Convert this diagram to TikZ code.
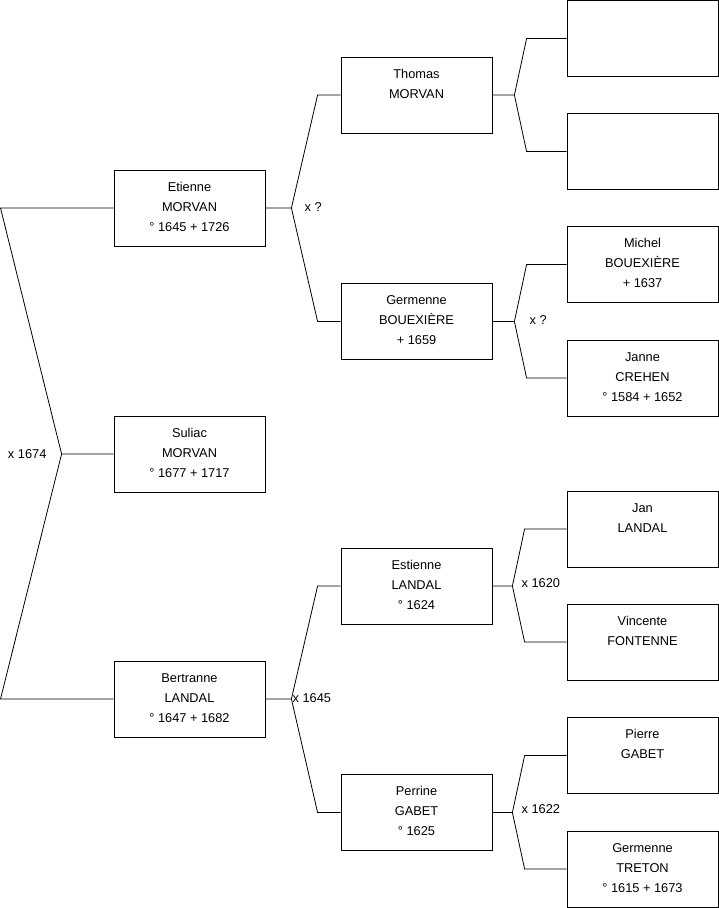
\documentclass[tikz,border=0pt]{standalone}
\usepackage{fontspec}
\setmainfont{Liberation Sans}
\usetikzlibrary{positioning, calc}

\newcommand{\personbox}[1]{\parbox[c][76pt][t]{151pt}{\centering\fontsize{12.8}{20}\selectfont\rule{0pt}{21pt}#1}}

\begin{document}
\begin{tikzpicture}[
        x=1pt, y=-1pt,
        person/.style={draw, rectangle, inner sep=0pt, minimum width=151pt, minimum height=76pt, line width=0.8pt},
        link/.style={line width=0.8pt},
        mariage/.style={inner sep=0pt, font=\fontsize{12.8}{15}\selectfont}
      ]
        \useasboundingbox (0,0) rectangle (719,908);

        % generation 0 and 1
        \node[person] (suliac)    at (189.5,454)   {\personbox{Suliac\\MORVAN\\° 1677 + 1717}};
        \node[person] (etienne)   at (189.5,208)   {\personbox{Etienne\\MORVAN\\° 1645 + 1726}};
        \node[person] (bertranne) at (189.5,699)   {\personbox{Bertranne\\LANDAL\\° 1647 + 1682}};

        % generation 2
        \node[person] (thomas)    at (416.5,95)    {\personbox{Thomas\\MORVAN}};
        \node[person] (germenneB) at (416.5,321.5) {\personbox{Germenne\\BOUEXIÈRE\\+ 1659}};
        \node[person] (estienne)  at (416.5,586)   {\personbox{Estienne\\LANDAL\\° 1624}};
        \node[person] (perrine)   at (416.5,812.5) {\personbox{Perrine\\GABET\\° 1625}};

        % generation 3
        \node[person] (empty1)    at (642.5,38.5)  {\personbox{}};
        \node[person] (empty2)    at (642.5,151.5) {\personbox{}};
        \node[person] (michel)    at (642.5,264.5) {\personbox{Michel\\BOUEXIÈRE\\+ 1637}};
        \node[person] (janne)     at (642.5,378)   {\personbox{Janne\\CREHEN\\° 1584 + 1652}};
        \node[person] (jan)       at (642.5,529)   {\personbox{Jan\\LANDAL}};
        \node[person] (vincente)  at (642.5,642)   {\personbox{Vincente\\FONTENNE}};
        \node[person] (pierre)    at (642.5,755.5) {\personbox{Pierre\\GABET}};
        \node[person] (germenneT) at (642.5,869)   {\personbox{Germenne\\TRETON\\° 1615 + 1673}};

        % parents of Suliac
        \coordinate (left) at (0.5,0);
        \draw[link] (suliac.west) -- ++(-52,0) coordinate (j0)
          -- (etienne.west -| left) -- (etienne.west);
        \draw[link] (j0) -- (bertranne.west -| left) -- (bertranne.west);
        \node[mariage, anchor=east] (m0) at ($(j0)+(-15,0)$) {x 1674};

        % other couples
        \foreach \c/\a/\b/\o/\i in {etienne/thomas/germenneB/26/23, bertranne/estienne/perrine/26/23,
            thomas/empty1/empty2/22/40, germenneB/michel/janne/22/40,
            estienne/jan/vincente/20/42, perrine/pierre/germenneT/20/42} {
          \draw[link] (\c.east) -- ++(\o,0) coordinate (j-\c)
            -- ([xshift=-\i pt]\a.west) -- (\a.west);
          \draw[link] (j-\c) -- ([xshift=-\i pt]\b.west) -- (\b.west);
        }

        \node[mariage, anchor=west] (m1) at ($(j-etienne)+(13,-1)$)   {x ?};
        \node[mariage, anchor=west] (m2) at ($(j-germenneB)+(15,-1)$) {x ?};
        \node[mariage, anchor=west] (m3) at ($(j-bertranne)+(1,-1)$)  {x 1645};
        \node[mariage, anchor=west] (m4) at ($(j-estienne)+(9,-3)$)   {x 1620};
        \node[mariage, anchor=west] (m5) at ($(j-perrine)+(9,-3)$)    {x 1622};
      \end{tikzpicture}
\end{document}
